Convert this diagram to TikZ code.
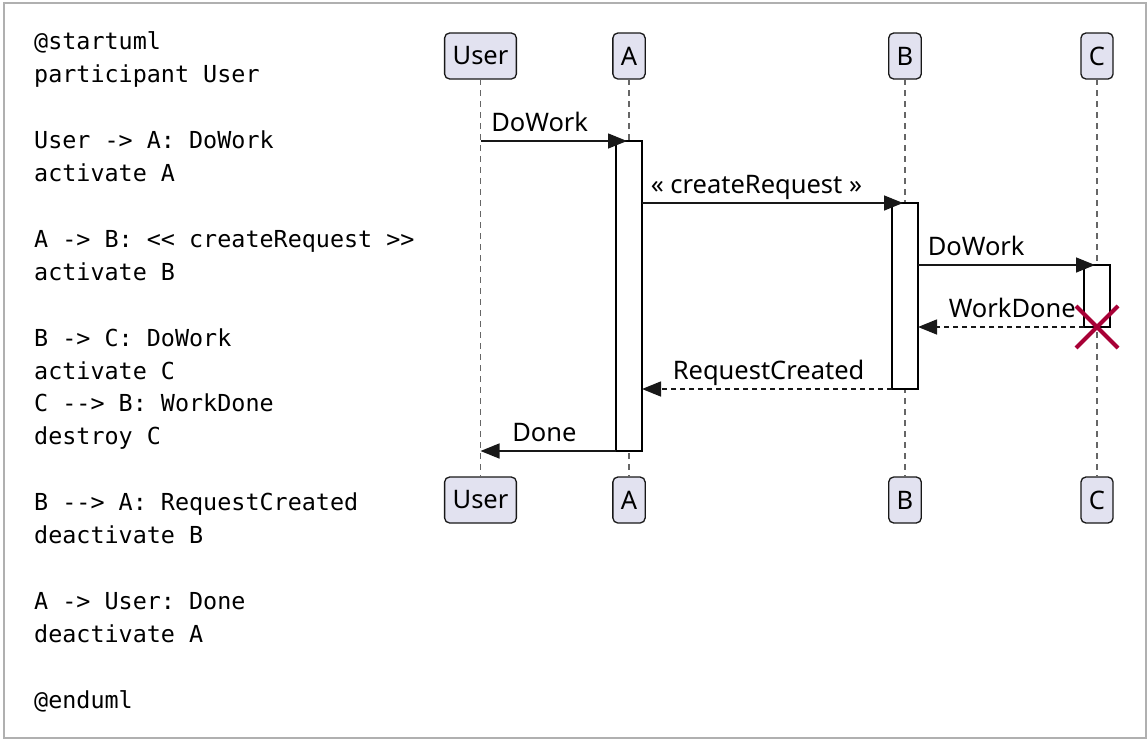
\documentclass[tikz,border=0pt]{standalone}
\usepackage{fontspec}
\setmainfont{Noto Sans}
\setmonofont{DejaVu Sans Mono}
\usetikzlibrary{arrows.meta}
\definecolor{partfill}{HTML}{E2E2F0}
\definecolor{partline}{HTML}{181818}
\definecolor{lifegray}{HTML}{666666}
\definecolor{framegray}{HTML}{B0B0B0}
\definecolor{destroyred}{HTML}{A80036}
\tikzset{
  part/.style={draw=partline, fill=partfill, line width=1.3pt, rounded corners=5pt,
    inner xsep=8pt, inner ysep=0pt, minimum height=46pt, outer sep=0pt,
    font=\fontsize{25.5}{30}\selectfont},
  lifeline/.style={draw=lifegray, line width=1.2pt, dash pattern=on 6pt off 5pt},
  actbar/.style={draw=black, fill=white, line width=2.8pt, minimum width=26pt,
    inner sep=0pt, outer sep=0pt},
  msg/.style={draw=partline, line width=1.5pt, -{Triangle[length=19pt,width=15pt]}},
  reply/.style={msg, dash pattern=on 5pt off 4pt},
  lbl/.style={font=\fontsize{25.5}{30}\selectfont, inner sep=0pt, anchor=base west},
  codeline/.style={font=\ttfamily\fontsize{23.4}{33}\selectfont\frenchspacing, inner sep=0pt, anchor=base west},
  destroy/.style={draw=destroyred, line width=4pt},
}
\begin{document}
\begin{tikzpicture}[x=1pt,y=-1pt]
\useasboundingbox (0,0) rectangle (1148,742);
\draw[framegray, line width=2pt] (4,3) rectangle (1146,738);

% code listing
\foreach \n/\t in {0/@startuml, 1/participant User, 3/User -> A: DoWork, 4/activate A,
  6/A -> B: << createRequest >>, 7/activate B, 9/B -> C: DoWork, 10/activate C,
  11/C --> B: WorkDone, 12/destroy C, 14/B --> A: RequestCreated, 15/deactivate B,
  17/A -> User: Done, 18/deactivate A, 20/@enduml}
  \node[codeline] (code\n) at (34, 49.5+32.95*\n) {\t};

% participants
\node[part] (Ut) at (480.5,56) {User};
\node[part] (At) at (629,56) {A};
\node[part] (Bt) at (905,56) {B};
\node[part] (Ct) at (1097,56) {C};
\node[part] (Ub) at (480.5,500) {User};
\node[part] (Ab) at (629,500) {A};
\node[part] (Bb) at (905,500) {B};
\node[part] (Cb) at (1097,500) {C};

% lifelines
\draw[lifeline] (Ut) -- (Ub);
\draw[lifeline] (At) -- (Ab);
\draw[lifeline] (Bt) -- (Bb);
\draw[lifeline] (Ct) -- (Cb);

% activation bars
\node[actbar, minimum height=310pt] (Abar) at (629,296) {};
\node[actbar, minimum height=186pt] (Bbar) at (905,296) {};
\node[actbar, minimum height=62pt] (Cbar) at (1097,296) {};

% messages
\draw[msg] (Ut.south |- Abar.north) -- ([xshift=-2pt]Abar.north)
  node[lbl, pos=0, xshift=10pt, yshift=10pt] (l1) {DoWork};
\draw[msg] (Abar.east |- Bbar.north) -- ([xshift=-2pt]Bbar.north)
  node[lbl, pos=0, xshift=8pt, yshift=10pt] (l2) {« createRequest »};
\draw[msg] (Bbar.east |- Cbar.north) -- ([xshift=-2pt]Cbar.north)
  node[lbl, pos=0, xshift=9pt, yshift=10pt] (l3) {DoWork};
\draw[reply] (Cbar.south west) -- (Bbar.east |- Cbar.south)
  node[lbl, pos=1, xshift=30pt, yshift=10pt] (l4) {WorkDone};
\draw[reply] (Bbar.south west) -- (Abar.east |- Bbar.south)
  node[lbl, pos=1, xshift=30pt, yshift=10pt] (l5) {RequestCreated};
\draw[msg] (Abar.south west) -- (Ut.south |- Abar.south)
  node[lbl, pos=1, xshift=31pt, yshift=10pt] (l6) {Done};

% destroy mark
\coordinate (X) at (Cbar.south);
\draw[destroy] ([shift={(-21pt,-21pt)}]X) -- ([shift={(21pt,21pt)}]X);
\draw[destroy] ([shift={(-21pt,21pt)}]X) -- ([shift={(21pt,-21pt)}]X);
\end{tikzpicture}
\end{document}
